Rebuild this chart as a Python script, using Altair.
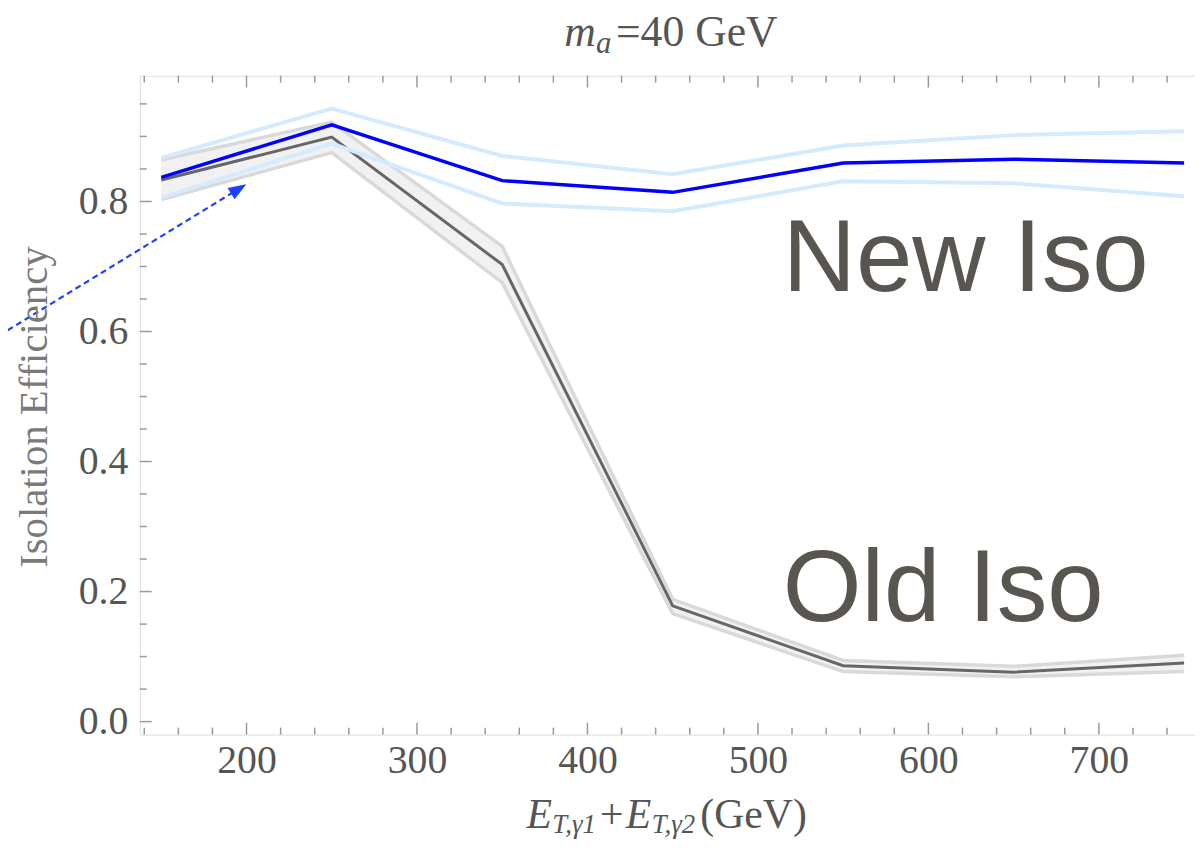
import altair as alt
import pandas as pd

# ---- data ----
et_sum = [150, 250, 350, 450, 550, 650, 750]
new_iso = [0.837, 0.918, 0.832, 0.814, 0.859, 0.865, 0.859]
new_hi = [0.867, 0.943, 0.870, 0.842, 0.886, 0.902, 0.908]
new_lo = [0.806, 0.889, 0.797, 0.785, 0.831, 0.828, 0.808]
old_iso = [0.833, 0.899, 0.703, 0.178, 0.086, 0.076, 0.090]
old_hi = [0.864, 0.922, 0.731, 0.188, 0.094, 0.085, 0.102]
old_lo = [0.803, 0.875, 0.675, 0.166, 0.077, 0.069, 0.077]

x_major = [200, 300, 400, 500, 600, 700]
x_minor = [140, 160, 180, 220, 240, 260, 280, 320, 340, 360, 380, 420, 440, 460, 480,
           520, 540, 560, 580, 620, 640, 660, 680, 720, 740]
y_major = [0.0, 0.2, 0.4, 0.6, 0.8]
y_minor = [0.05, 0.1, 0.15, 0.25, 0.3, 0.35, 0.45, 0.5, 0.55, 0.65, 0.7, 0.75, 0.85, 0.9, 0.95]

arrow_x = [45.0, 195.4]
arrow_y = [0.578, 0.8193]

label_new = "New Iso"
label_old = "Old Iso"
y_title = "Isolation Efficiency"

# ---- layout ----
W, H = 1062.3, 663.4
PAD = {"left": 132.7, "top": 65.3, "right": 0, "bottom": 103.3}
SERIF = "Liberation Serif"
TXT = "#555555"
FRAME = "#9a9a9a"

df = pd.DataFrame({"x": et_sum, "new": new_iso, "new_hi": new_hi, "new_lo": new_lo,
                   "old": old_iso, "old_hi": old_hi, "old_lo": old_lo})

xs = alt.Scale(domain=[137.4, 756.4], nice=False, zero=False)
ys = alt.Scale(domain=[-0.02, 0.9935], nice=False, zero=False)

x_axis = alt.Axis(values=x_major, ticks=False, tickSize=0, domain=False, grid=False,
                  labelFont=SERIF, labelFontSize=40, labelColor=TXT, labelPadding=6,
                  labelFlush=False)
y_axis = alt.Axis(values=y_major, format=".1f", ticks=False, tickSize=0, domain=False,
                  grid=False, labelFont=SERIF, labelFontSize=40, labelColor=TXT,
                  labelPadding=12)


def X(field):
    return alt.X(field, type="quantitative", scale=xs, axis=x_axis, title="")


def Y(field):
    return alt.Y(field, type="quantitative", scale=ys, axis=y_axis, title="")


base = alt.Chart(df)

old_band = base.mark_area(color="#f1f1f1").encode(x=X("x"), y=Y("old_lo"), y2="old_hi")
old_hi_l = base.mark_line(color="#d9d9d9", strokeWidth=3.5).encode(x=X("x"), y=Y("old_hi"))
old_lo_l = base.mark_line(color="#d9d9d9", strokeWidth=3.5).encode(x=X("x"), y=Y("old_lo"))
old_l = base.mark_line(color="#666666", strokeWidth=3).encode(x=X("x"), y=Y("old"))
new_hi_l = base.mark_line(color="#d6eafd", strokeWidth=4).encode(x=X("x"), y=Y("new_hi"))
new_lo_l = base.mark_line(color="#d6eafd", strokeWidth=4).encode(x=X("x"), y=Y("new_lo"))
new_l = base.mark_line(color="#0000ff", strokeWidth=3.5).encode(x=X("x"), y=Y("new"))

# ---- frame ticks (inward) ----
dxm = pd.DataFrame({"v": x_major})
dxn = pd.DataFrame({"v": x_minor})
dym = pd.DataFrame({"v": y_major})
dyn = pd.DataFrame({"v": y_minor})
tk = dict(color=FRAME, strokeWidth=1.5)
ticks = [
    alt.Chart(dxm).mark_rule(**tk).encode(x=X("v"), y=alt.value(H), y2=alt.value(H - 12)),
    alt.Chart(dxn).mark_rule(**tk).encode(x=X("v"), y=alt.value(H), y2=alt.value(H - 7)),
    alt.Chart(dxm).mark_rule(**tk).encode(x=X("v"), y=alt.value(0), y2=alt.value(12)),
    alt.Chart(dxn).mark_rule(**tk).encode(x=X("v"), y=alt.value(0), y2=alt.value(7)),
    alt.Chart(dym).mark_rule(**tk).encode(y=Y("v"), x=alt.value(0), x2=alt.value(12)),
    alt.Chart(dyn).mark_rule(**tk).encode(y=Y("v"), x=alt.value(0), x2=alt.value(7)),
]

# ---- arrow ----
dar = pd.DataFrame({"ax": arrow_x, "ay": arrow_y})
arrow_line = alt.Chart(dar).mark_line(color="#1f3fff", strokeWidth=2.2, strokeDash=[6, 4],
                                      clip=False).encode(x=X("ax"), y=Y("ay"))
arrow_head = alt.Chart(dar.tail(1)).mark_point(
    shape="M0,-1L0.75,1L-0.75,1Z", filled=True, color="#1f3fff", opacity=1,
    size=324, angle=58.2, clip=False).encode(x=X("ax"), y=Y("ay"))

# ---- text annotations ----
one = pd.DataFrame({"t": [0]})


def txt(s, x, y, size, font=SERIF, style="normal", color=TXT, angle=0, align="left",
        baseline="alphabetic"):
    return alt.Chart(one).mark_text(text=s, font=font, fontSize=size, fontStyle=style,
                                    color=color, angle=angle, align=align,
                                    baseline=baseline).encode(x=alt.value(x), y=alt.value(y))


ox, oy = 140.7, 73.3  # page position of plot origin
xb = 831  # x-title baseline (page)
texts = [
    txt(label_new, 788 - ox, 290 - oy, 102, font="Liberation Sans", color="#595550"),
    txt(label_old, 788 - ox, 622 - oy, 102, font="Liberation Sans", color="#595550"),
    # title m_a=40 GeV
    txt("m", 568 - ox, 43 - oy, 44, style="italic"),
    txt("a", 600 - ox, 50 - oy, 31, style="italic"),
    txt("=40 GeV", 620 - ox, 43 - oy, 44),
    # x title E_{T,γ1}+E_{T,γ2}(GeV)
    txt("E", 530 - ox, xb - oy, 42, style="italic"),
    txt("T,γ1", 556 - ox, xb + 5 - oy, 27, style="italic"),
    txt("+", 604 - ox, xb - oy, 42),
    txt("E", 630 - ox, xb - oy, 42, style="italic"),
    txt("T,γ2", 656 - ox, xb + 5 - oy, 27, style="italic"),
    txt("(GeV)", 705 - ox, xb - oy, 42),
    # y title
    txt(y_title, 35 - ox, 407 - oy, 41, color="#7a7a7a", angle=270, align="center",
        baseline="middle"),
]

chart = alt.layer(
    old_band, old_hi_l, old_lo_l, old_l, new_hi_l, new_lo_l, new_l,
    *ticks, arrow_line, arrow_head, *texts
).properties(
    width=W, height=H, padding=PAD, autosize=alt.AutoSizeParams(type="none")
).configure_view(stroke=FRAME, strokeWidth=1.5).configure(background="white")

chart.save("out.html", embed_options={"renderer": "svg", "actions": False})
